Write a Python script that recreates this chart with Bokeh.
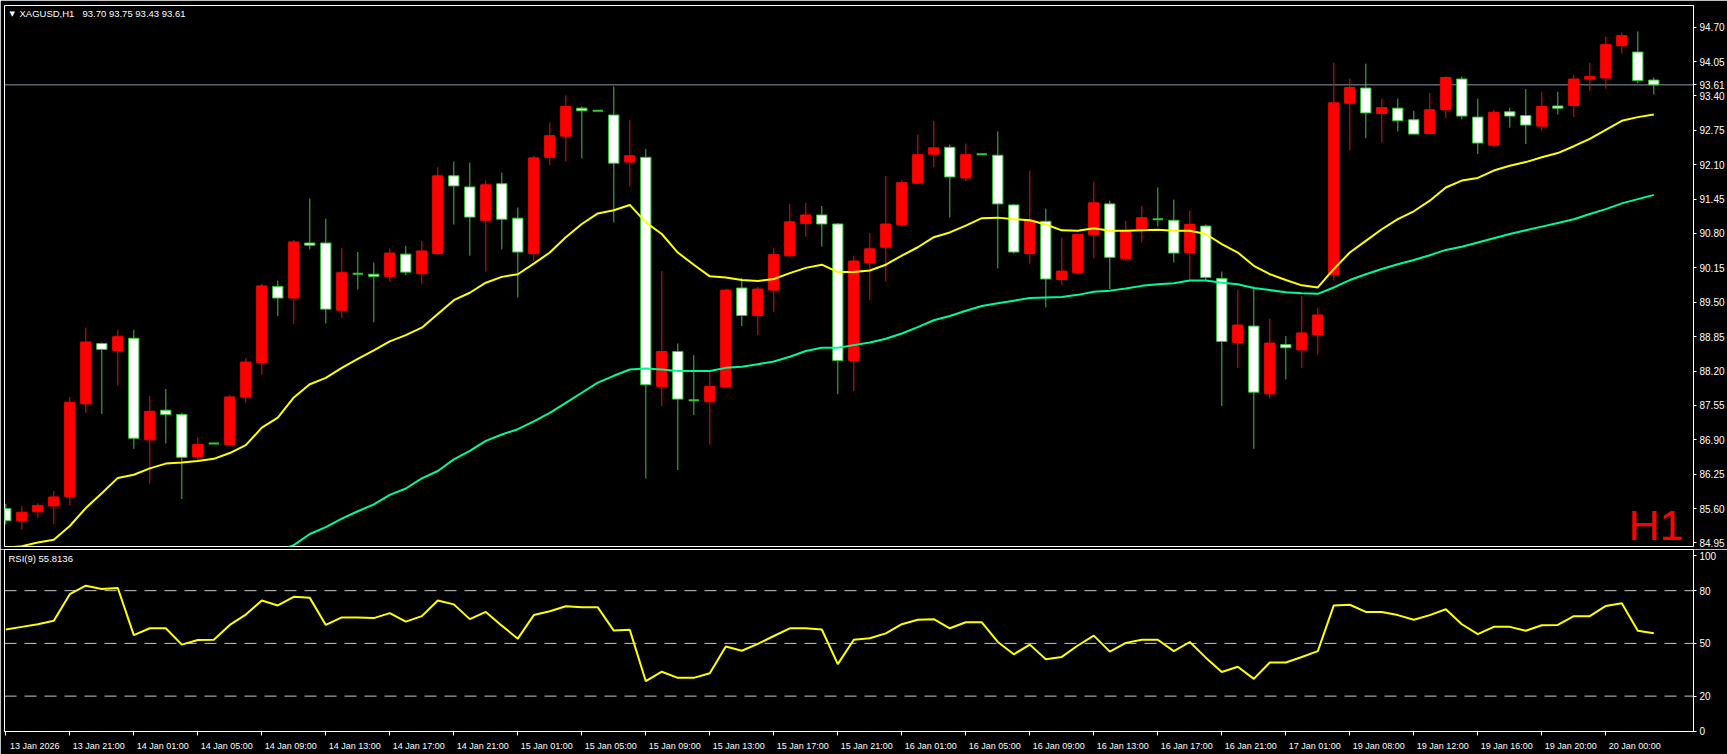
import numpy as np
from bokeh.plotting import figure
from bokeh.models import (ColumnDataSource, Range1d, LinearAxis, FixedTicker,
                          Span, Label, PrintfTickFormatter)
from bokeh.layouts import column
from bokeh.embed import file_html
from bokeh.resources import INLINE

# ---------------- data ----------------
symbol = "XAGUSD,H1"
timeframe = "H1"
rsi_period = 9

time_labels = ["13 Jan 2026", "13 Jan 21:00", "14 Jan 01:00", "14 Jan 05:00", "14 Jan 09:00",
               "14 Jan 13:00", "14 Jan 17:00", "14 Jan 21:00", "15 Jan 01:00", "15 Jan 05:00",
               "15 Jan 09:00", "15 Jan 13:00", "15 Jan 17:00", "15 Jan 21:00", "16 Jan 01:00",
               "16 Jan 05:00", "16 Jan 09:00", "16 Jan 13:00", "16 Jan 17:00", "16 Jan 21:00",
               "17 Jan 01:00", "19 Jan 08:00", "19 Jan 12:00", "19 Jan 16:00", "19 Jan 20:00",
               "20 Jan 00:00"]
time_label_bars = [0, 4, 8, 12, 16, 20, 24, 28, 32, 36, 40, 44, 48, 52, 56, 60, 64, 68, 72,
                   76, 80, 84, 88, 92, 96, 100]

price_ticks = [84.95, 85.60, 86.25, 86.90, 87.55, 88.20, 88.85, 89.50, 90.15, 90.80,
               91.45, 92.10, 92.75, 93.40, 94.05, 94.70]
rsi_ticks = [0, 20, 50, 80, 100]
rsi_levels = [20, 50, 80]

opens = [85.60, 85.37, 85.54, 85.65, 85.83, 87.58, 88.72, 88.59, 88.82, 86.90,
         87.46, 87.38, 86.58, 86.83, 86.81, 87.71, 88.36, 89.80, 89.58, 90.62,
         90.62, 89.35, 90.04, 90.03, 89.99, 90.41, 90.04, 90.42, 91.89, 91.68,
         91.05, 91.74, 91.09, 90.42, 92.24, 92.64, 93.17, 93.12, 93.04, 92.15,
         92.24, 87.91, 88.57, 87.65, 87.62, 87.90, 89.77, 89.25, 89.73, 90.38,
         90.99, 91.15, 90.98, 88.40, 90.25, 90.54, 90.97, 91.75, 92.30, 92.43,
         91.85, 92.30, 92.28, 91.34, 90.42, 91.03, 89.93, 90.06, 90.78, 91.36,
         90.33, 90.87, 91.07, 91.05, 90.44, 90.94, 89.95, 88.74, 89.05, 87.77,
         88.70, 88.60, 88.89, 90.02, 93.26, 93.55, 93.07, 93.17, 92.95, 92.69,
         93.14, 93.72, 93.00, 92.47, 93.10, 93.03, 92.83, 93.21, 93.22, 93.72,
         93.74, 94.35, 94.23, 93.70]
highs = [85.69, 85.65, 85.70, 85.93, 87.71, 89.02, 88.74, 88.98, 88.98, 87.73,
         87.86, 87.41, 86.95, 86.84, 87.75, 88.45, 89.85, 89.91, 90.68, 91.46,
         91.08, 90.53, 90.45, 90.25, 90.52, 90.57, 90.66, 92.05, 92.16, 92.14,
         91.80, 91.95, 91.29, 92.27, 92.90, 93.41, 93.20, 93.13, 93.58, 92.95,
         92.40, 90.09, 88.72, 88.50, 88.19, 89.75, 89.96, 89.79, 90.53, 91.36,
         91.38, 91.32, 91.00, 90.38, 90.81, 91.89, 91.82, 92.67, 92.93, 92.48,
         92.50, 92.31, 92.73, 91.36, 91.99, 91.27, 90.72, 90.80, 91.78, 91.42,
         91.04, 91.32, 91.67, 91.44, 91.23, 90.97, 90.08, 89.73, 89.80, 89.19,
         88.86, 89.62, 89.40, 94.03, 93.73, 94.01, 93.35, 93.35, 93.12, 93.46,
         93.77, 93.77, 93.35, 93.14, 93.18, 93.53, 93.48, 93.48, 93.80, 94.03,
         94.52, 94.60, 94.62, 93.75]
lows = [85.30, 85.20, 85.42, 85.31, 85.66, 87.41, 87.39, 87.92, 86.73, 86.07,
        86.83, 85.78, 86.50, 86.82, 86.80, 87.60, 88.13, 89.24, 89.09, 90.50,
        89.10, 89.20, 89.74, 89.12, 89.89, 90.01, 89.84, 90.40, 90.97, 90.38,
        90.08, 90.50, 89.59, 90.28, 92.09, 92.16, 92.22, 93.11, 91.01, 91.69,
        86.17, 87.54, 86.33, 87.37, 86.81, 87.87, 89.05, 88.88, 89.32, 90.35,
        90.74, 90.55, 87.76, 87.82, 89.54, 89.89, 90.95, 91.74, 92.05, 91.10,
        91.79, 92.29, 90.14, 90.42, 90.23, 89.40, 89.82, 90.05, 90.33, 89.75,
        90.28, 90.63, 90.93, 90.25, 89.91, 89.91, 87.54, 88.26, 86.73, 87.68,
        88.04, 88.26, 88.51, 89.91, 92.37, 92.60, 92.52, 92.73, 92.67, 92.67,
        92.98, 92.96, 92.30, 92.43, 92.80, 92.49, 92.74, 93.05, 93.00, 93.49,
        93.54, 94.20, 93.64, 93.43]
closes = [85.37, 85.53, 85.66, 85.82, 87.61, 88.75, 88.61, 88.85, 86.93, 87.44,
          87.38, 86.57, 86.81, 86.83, 87.71, 88.37, 89.81, 89.58, 90.64, 90.58,
          89.37, 90.06, 90.04, 89.99, 90.43, 90.07, 90.47, 91.89, 91.70, 91.11,
          91.72, 91.07, 90.45, 92.23, 92.65, 93.20, 93.12, 93.12, 92.13, 92.27,
          87.94, 88.57, 87.67, 87.65, 87.91, 89.73, 89.25, 89.75, 90.40, 91.02,
          91.15, 90.98, 88.40, 90.28, 90.51, 90.98, 91.76, 92.29, 92.42, 91.87,
          92.29, 92.30, 91.36, 90.45, 91.05, 89.94, 90.09, 90.78, 91.38, 90.35,
          90.84, 91.10, 91.07, 90.43, 90.97, 89.97, 88.76, 89.07, 87.80, 88.73,
          88.64, 88.92, 89.26, 93.27, 93.56, 93.08, 93.18, 92.93, 92.68, 93.14,
          93.75, 93.02, 92.51, 93.09, 93.02, 92.85, 93.20, 93.17, 93.72, 93.77,
          94.37, 94.54, 93.69, 93.61]

ma_fast = [84.86, 84.89, 84.96, 85.01, 85.27, 85.61, 85.89, 86.18, 86.24, 86.36,
           86.45, 86.47, 86.50, 86.54, 86.65, 86.80, 87.13, 87.32, 87.70, 87.95,
           88.07, 88.26, 88.43, 88.59, 88.76, 88.88, 89.02, 89.28, 89.54, 89.68,
           89.87, 89.98, 90.03, 90.23, 90.44, 90.73, 90.98, 91.18, 91.24, 91.34,
           91.01, 90.79, 90.44, 90.21, 89.99, 89.97, 89.92, 89.90, 89.94, 90.05,
           90.15, 90.21, 90.07, 90.07, 90.10, 90.21, 90.38, 90.54, 90.73, 90.82,
           90.95, 91.09, 91.10, 91.07, 91.05, 90.97, 90.86, 90.85, 90.90, 90.85,
           90.85, 90.86, 90.87, 90.85, 90.85, 90.79, 90.60, 90.44, 90.19, 90.03,
           89.92, 89.82, 89.78, 90.13, 90.44, 90.66, 90.88, 91.07, 91.22, 91.42,
           91.67, 91.80, 91.85, 91.99, 92.08, 92.15, 92.24, 92.32, 92.45, 92.59,
           92.76, 92.93, 93.00, 93.05]
nan = float("nan")
ma_slow = [nan] * 17 + [
           84.80, 84.91, 85.12,
           85.25, 85.41, 85.55, 85.68, 85.86, 85.98, 86.17, 86.31, 86.53, 86.69,
           86.88, 87.00, 87.10, 87.25, 87.41, 87.60, 87.79, 87.98, 88.11, 88.23,
           88.25, 88.23, 88.20, 88.20, 88.20, 88.26, 88.28, 88.33, 88.38, 88.47,
           88.58, 88.64, 88.64, 88.69, 88.74, 88.81, 88.91, 89.03, 89.16, 89.24,
           89.34, 89.43, 89.48, 89.53, 89.58, 89.59, 89.60, 89.64, 89.70, 89.72,
           89.76, 89.81, 89.84, 89.86, 89.91, 89.91, 89.87, 89.84, 89.77, 89.73,
           89.69, 89.67, 89.66, 89.78, 89.92, 90.03, 90.13, 90.22, 90.30, 90.39,
           90.49, 90.55, 90.63, 90.71, 90.79, 90.86, 90.93, 91.00, 91.07, 91.17,
           91.26, 91.37, 91.45, 91.53]

rsi = [57.9, 59.4, 60.9, 62.9, 78.0, 82.8, 80.9, 81.5, 54.7, 58.6,
       58.6, 49.3, 51.9, 52.1, 60.5, 66.4, 74.4, 71.6, 76.5, 75.9,
       60.5, 64.8, 64.8, 64.4, 67.2, 62.4, 65.5, 74.4, 72.2, 63.8,
       67.9, 60.1, 52.7, 66.1, 68.3, 71.1, 70.5, 70.5, 57.3, 57.7,
       28.5, 33.9, 30.4, 30.4, 33.0, 48.2, 45.8, 49.7, 54.2, 58.6,
       58.6, 57.9, 38.2, 52.1, 52.9, 55.7, 60.9, 63.5, 63.8, 58.6,
       62.0, 62.0, 50.8, 43.8, 49.3, 41.0, 42.3, 48.8, 54.4, 45.3,
       50.3, 52.1, 52.1, 45.6, 50.8, 41.9, 33.7, 36.7, 29.8, 39.1,
       39.1, 42.3, 45.6, 71.6, 72.0, 67.9, 67.9, 66.1, 63.5, 66.1,
       69.4, 60.9, 55.3, 59.4, 59.4, 57.2, 60.3, 60.5, 65.5, 65.5,
       71.3, 72.9, 57.2, 55.8136]

# ---------------- styling / layout constants ----------------
W = 1727
LEFT_BORDER = 4
RIGHT_BORDER = 34
MAIN_TOP = 5
MAIN_FRAME_H = 541
MAIN_BOTTOM = 3
MAIN_H = MAIN_TOP + MAIN_FRAME_H + MAIN_BOTTOM
RSI_TOP = 0
RSI_FRAME_H = 182
RSI_H = 754 - MAIN_H
RSI_BOTTOM = RSI_H - RSI_TOP - RSI_FRAME_H
PPB = 16.0            # pixels per bar
PPU = 52.9            # pixels per price unit
FRAME_W = W - LEFT_BORDER - RIGHT_BORDER
X0 = -1.3 / PPB
X1 = X0 + FRAME_W / PPB
Y_TOP = 95.110
Y_BOT = Y_TOP - MAIN_FRAME_H / PPU
RSI_PPU = 175.8 / 100.0
RSI_LO = -0.2 / RSI_PPU
RSI_HI = RSI_LO + RSI_FRAME_H / RSI_PPU

FONT = "Liberation Sans"
BG = "#000000"
UP_COL = "#ff0000"
DN_FILL = "#ffffff"
DN_LINE = "#33cc33"
FAST_COL = "#ffff00"
SLOW_COL = "#00fa9a"


def fx(px):
    """frame-relative horizontal pixel -> bar units"""
    return X0 + px / PPB


def fy(px):
    """frame-relative vertical pixel (from top) -> price units"""
    return Y_TOP - px / PPU


n = len(closes)
xs = np.arange(n)
o = np.array(opens)
c = np.array(closes)
up = c > o
src = ColumnDataSource(dict(
    x=xs, open=o, high=np.array(highs), low=np.array(lows), close=c,
    top=np.maximum(o, c), bottom=np.minimum(o, c),
    fill=[UP_COL if u else DN_FILL for u in up],
    line=[UP_COL if u else DN_LINE for u in up],
    lw=[2 if oo == cc else 1 for oo, cc in zip(opens, closes)],
))

xr = Range1d(X0, X1)

# ---------------- main price panel ----------------
p = figure(width=W, height=MAIN_H, x_range=xr, y_range=Range1d(Y_BOT, Y_TOP),
           output_backend="svg", toolbar_location=None,
           x_axis_location=None, y_axis_location=None,
           background_fill_color=BG, border_fill_color=BG,
           min_border_left=LEFT_BORDER, min_border_right=RIGHT_BORDER,
           min_border_top=MAIN_TOP, min_border_bottom=MAIN_BOTTOM)
p.outline_line_color = "white"
p.outline_line_width = 1
p.xgrid.visible = False
p.ygrid.visible = False

p.add_layout(Span(location=closes[-1], dimension="width", line_color="#8899aa",
                  line_width=1, level="underlay"))

p.segment(x0="x", y0="low", x1="x", y1="high", line_color="line", line_width=1, source=src)
p.vbar(x="x", width=0.64, top="top", bottom="bottom", fill_color="fill",
       line_color="line", line_width="lw", source=src)

p.line(xs, np.array(ma_fast), line_color=FAST_COL, line_width=2)
p.line(xs, np.array(ma_slow), line_color=SLOW_COL, line_width=2)

# price scale, including the current-price tag
pax = LinearAxis(ticker=FixedTicker(ticks=price_ticks + [closes[-1]]),
                 formatter=PrintfTickFormatter(format="%.2f"))
pax.axis_line_color = "white"
pax.major_tick_line_color = "white"
pax.major_tick_in = 0
pax.major_tick_out = 3
pax.minor_tick_line_color = None
pax.major_label_standoff = 3
pax.major_label_text_color = "white"
pax.major_label_text_font = FONT
pax.major_label_text_font_size = "10px"
p.add_layout(pax, "right")

p.add_layout(Label(x=fx(5), y=fy(8), text="\u25bc", text_color="white",
                   text_font="DejaVu Sans", text_font_size="7px",
                   text_baseline="middle", text_align="left"))
p.add_layout(Label(x=fx(15), y=fy(8), text=symbol,
                   text_color="white", text_font=FONT, text_font_size="9.5px",
                   text_baseline="middle", text_align="left"))
p.add_layout(Label(x=fx(78), y=fy(8),
                   text=f"{opens[-1]:.2f} {highs[-1]:.2f} {lows[-1]:.2f} {closes[-1]:.2f}",
                   text_color="white", text_font=FONT, text_font_size="9.5px",
                   text_baseline="middle", text_align="left"))
p.add_layout(Label(x=fx(1679), y=fy(519), text=timeframe,
                   text_color="#ff0000", text_font=FONT, text_font_size="43px",
                   text_baseline="middle", text_align="right"))

# ---------------- RSI panel ----------------
r = figure(width=W, height=RSI_H, x_range=xr, y_range=Range1d(RSI_LO, RSI_HI),
           output_backend="svg", toolbar_location=None,
           x_axis_location=None, y_axis_location=None,
           background_fill_color=BG, border_fill_color=BG,
           min_border_left=LEFT_BORDER, min_border_right=RIGHT_BORDER,
           min_border_top=RSI_TOP, min_border_bottom=RSI_BOTTOM)
r.outline_line_color = "white"
r.outline_line_width = 1
r.xgrid.visible = False
r.ygrid.visible = False

for lv in rsi_levels:
    r.add_layout(Span(location=lv, dimension="width", line_color="#c8c8c8",
                      line_width=1, line_dash="12 8", level="underlay"))

r.line(xs, np.array(rsi), line_color=FAST_COL, line_width=2)

rax = LinearAxis(ticker=FixedTicker(ticks=rsi_ticks),
                 formatter=PrintfTickFormatter(format="%d"))
rax.axis_line_color = "white"
rax.major_tick_line_color = "white"
rax.major_tick_in = 0
rax.major_tick_out = 3
rax.minor_tick_line_color = None
rax.major_label_standoff = 3
rax.major_label_text_color = "white"
rax.major_label_text_font = FONT
rax.major_label_text_font_size = "10px"
r.add_layout(rax, "right")

LABEL_SHIFT = 1.8125  # labels start right after their tick, as in the terminal
centers = [b + LABEL_SHIFT for b in time_label_bars]
tax = LinearAxis(ticker=FixedTicker(ticks=centers, minor_ticks=time_label_bars))
tax.major_label_overrides = {cpos: lab for cpos, lab in zip(centers, time_labels)}
tax.axis_line_color = "white"
tax.major_tick_line_color = None
tax.major_tick_in = 0
tax.major_tick_out = 0
tax.minor_tick_line_color = "white"
tax.minor_tick_in = 0
tax.minor_tick_out = 4
tax.major_label_standoff = 5
tax.major_label_text_color = "white"
tax.major_label_text_font = FONT
tax.major_label_text_font_size = "9px"
r.add_layout(tax, "below")

r.add_layout(Label(x=fx(4), y=RSI_HI - 9 / RSI_PPU, text=f"RSI({rsi_period}) {rsi[-1]:.4f}",
                   text_color="white", text_font=FONT, text_font_size="9.5px",
                   text_baseline="middle", text_align="left"))

layout = column(p, r, spacing=0)
open("out.html", "w").write(file_html(layout, INLINE))
